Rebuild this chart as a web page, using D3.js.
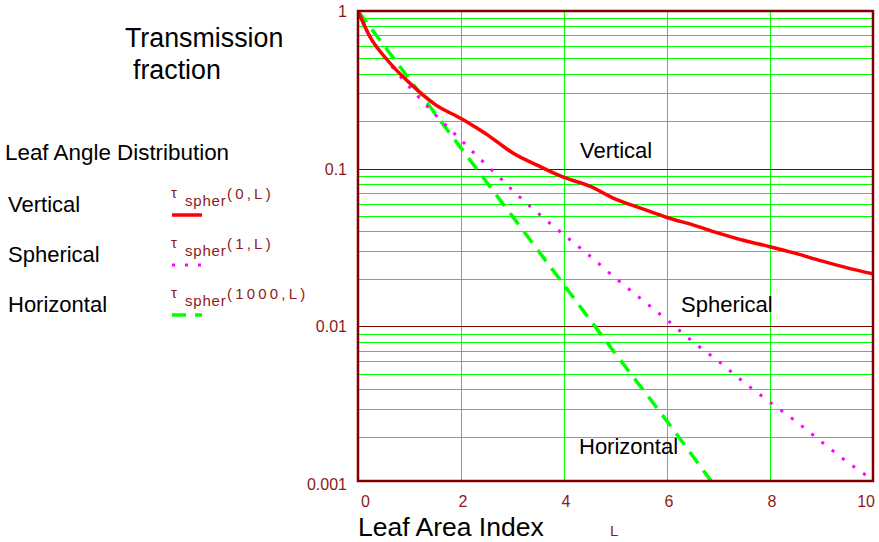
<!DOCTYPE html>
<html>
<head>
<meta charset="utf-8">
<script src="https://cdn.jsdelivr.net/npm/d3@7"></script>
<style>
  body { margin: 0; background: #fff; }
  svg { font-family: "Liberation Sans", Arial, sans-serif; }
</style>
</head>
<body>
<div id="chart"></div>
<script>
// Leaf area index sample points
const leafArea = [0, 0.25, 0.5, 0.75, 1, 1.5, 2, 2.25, 2.5, 2.75, 3, 3.5, 4, 4.5, 5, 5.5, 6, 6.5, 7, 7.5, 8, 8.5, 9, 9.5, 10];
// Transmission fraction
const vertical = [1, 0.67, 0.52, 0.42, 0.35, 0.255, 0.208, 0.186, 0.165, 0.144, 0.126, 0.1045, 0.088, 0.0774, 0.064, 0.056, 0.049, 0.044, 0.039, 0.035, 0.032, 0.029, 0.026, 0.0235, 0.0215];
const spherical = [1, 0.67, 0.515, 0.41, 0.33, 0.22, 0.152, 0.126, 0.105, 0.088, 0.073, 0.052, 0.038, 0.028, 0.0202, 0.0149, 0.011, 0.008, 0.006, 0.0044, 0.0033, 0.0025, 0.00185, 0.00138, 0.00106];
const leafAreaH = [0, 1, 2, 3, 4, 5, 6, 7];
const horizontal = [1, 0.368, 0.135, 0.0498, 0.0183, 0.0067, 0.0025, 0.0009];

const xTicks = [0, 2, 4, 6, 8, 10];
const yTicks = [1, 0.1, 0.01, 0.001];
const legendNames = ["Vertical", "Spherical", "Horizontal"];
const legendArgs = ["(0,L)", "(1,L)", "(1000,L)"];

const width = 879, height = 542;
const plotLeft = 358, plotTop = 11, plotRight = 873, plotBottom = 481;
const axisColor = "#800000";
const labelColor = "#8c1a1a";

const svg = d3.select("#chart").append("svg")
    .attr("width", width)
    .attr("height", height);

const x = d3.scaleLinear().domain([0, 10]).range([plotLeft, plotRight]);
const y = d3.scaleLog().domain([1, 0.001]).range([plotTop, 484]);

svg.append("clipPath").attr("id", "plot-clip")
  .append("rect")
    .attr("x", plotLeft).attr("y", plotTop)
    .attr("width", plotRight - plotLeft).attr("height", plotBottom - plotTop);

// Minor horizontal grid lines (2..9 in each decade)
const minor = [];
[1, 0.1, 0.01, 0.001].forEach(d => {
    for (let k = 2; k <= 9; k++) if (d * k < 1) minor.push(d * k);
});
const grid = svg.append("g").attr("clip-path", "url(#plot-clip)");
grid.selectAll(".hminor")
  .data(minor)
  .enter().append("line")
    .attr("x1", plotLeft).attr("x2", plotRight)
    .attr("y1", d => Math.round(y(d)) + 0.5)
    .attr("y2", d => Math.round(y(d)) + 0.5)
    .attr("stroke", "#00ff00")
    .attr("stroke-width", 1);

grid.selectAll(".vgrid")
  .data(xTicks)
  .enter().append("line")
    .attr("x1", d => Math.round(x(d)) + 0.5)
    .attr("x2", d => Math.round(x(d)) + 0.5)
    .attr("y1", plotTop).attr("y2", plotBottom)
    .attr("stroke", "#00ff00")
    .attr("stroke-width", 1);

// Decade lines
grid.selectAll(".hmajor")
  .data([0.1, 0.01])
  .enter().append("line")
    .attr("x1", plotLeft).attr("x2", plotRight)
    .attr("y1", d => Math.round(y(d)) + 0.5)
    .attr("y2", d => Math.round(y(d)) + 0.5)
    .attr("stroke", axisColor)
    .attr("stroke-width", 1);

// Curves
const series = [
    { xs: leafArea, ys: vertical, color: "#ff0000", dash: null, w: 3.5 },
    { xs: leafArea, ys: spherical, color: "#ff00ff", dash: "3,10", w: 3 },
    { xs: leafAreaH, ys: horizontal, color: "#00ff00", dash: "14,9", w: 3.5 }
];
const line = d3.line()
    .x(d => x(d[0]))
    .y(d => y(d[1]))
    .curve(d3.curveMonotoneX);

const curves = svg.append("g").attr("clip-path", "url(#plot-clip)");
series.slice().reverse().forEach(s => {
    curves.append("path")
        .datum(s.xs.map((v, i) => [v, s.ys[i]]))
        .attr("d", line)
        .attr("fill", "none")
        .attr("stroke", s.color)
        .attr("stroke-width", s.w)
        .attr("stroke-dasharray", s.dash);
});

// Frame
svg.append("rect")
    .attr("x", plotLeft).attr("y", plotTop)
    .attr("width", plotRight - plotLeft).attr("height", plotBottom - plotTop)
    .attr("fill", "none")
    .attr("stroke", axisColor)
    .attr("stroke-width", 2.5);

// Tick labels
svg.selectAll(".ylab")
  .data(yTicks)
  .enter().append("text")
    .attr("x", 347)
    .attr("y", d => y(d) + 6)
    .attr("text-anchor", "end")
    .attr("font-size", 16)
    .attr("fill", labelColor)
    .text(d => String(d));

svg.selectAll(".xlab")
  .data(xTicks)
  .enter().append("text")
    .attr("x", (d, i) => i === 0 ? x(d) + 3 : x(d) + 2)
    .attr("y", 507)
    .attr("text-anchor", (d, i) => i === 0 ? "start" : i === xTicks.length - 1 ? "end" : "middle")
    .attr("font-size", 16)
    .attr("fill", labelColor)
    .text(d => d);

// Axis titles
svg.append("text")
    .attr("x", 358).attr("y", 536)
    .attr("font-size", 26.5)
    .attr("fill", "#000")
    .text("Leaf Area Index");
svg.append("text")
    .attr("x", 610).attr("y", 536)
    .attr("font-size", 15)
    .attr("fill", labelColor)
    .text("L");

svg.append("text")
    .attr("x", 125).attr("y", 47)
    .attr("font-size", 26.8)
    .text("Transmission");
svg.append("text")
    .attr("x", 133).attr("y", 79)
    .attr("font-size", 26.8)
    .text("fraction");

// Legend
svg.append("text")
    .attr("x", 5).attr("y", 160)
    .attr("font-size", 22.4)
    .text("Leaf Angle Distribution");

const legend = svg.selectAll(".legend")
  .data(series)
  .enter().append("g")
    .attr("transform", (d, i) => `translate(0, ${i * 50})`);

legend.append("text")
    .attr("x", 8).attr("y", 212)
    .attr("font-size", 22)
    .text((d, i) => legendNames[i]);

legend.append("text")
    .attr("x", 171).attr("y", 198)
    .attr("font-size", 15)
    .attr("fill", labelColor)
    .text("τ");
legend.append("text")
    .attr("x", 185).attr("y", 206)
    .attr("font-size", 15)
    .attr("letter-spacing", 0.8)
    .attr("fill", labelColor)
    .text("spher");
legend.append("text")
    .attr("x", 227).attr("y", 199)
    .attr("font-size", 15)
    .attr("letter-spacing", 3.2)
    .attr("fill", labelColor)
    .text((d, i) => legendArgs[i]);

legend.append("line")
    .attr("x1", 172).attr("x2", 202)
    .attr("y1", 215).attr("y2", 215)
    .attr("stroke", d => d.color)
    .attr("stroke-width", d => d.w)
    .attr("stroke-dasharray", d => d.dash);

// In-plot labels
svg.append("text").attr("x", 580).attr("y", 158).attr("font-size", 22).text("Vertical");
svg.append("text").attr("x", 681).attr("y", 312).attr("font-size", 22).text("Spherical");
svg.append("text").attr("x", 579).attr("y", 454).attr("font-size", 22).text("Horizontal");
</script>
</body>
</html>
